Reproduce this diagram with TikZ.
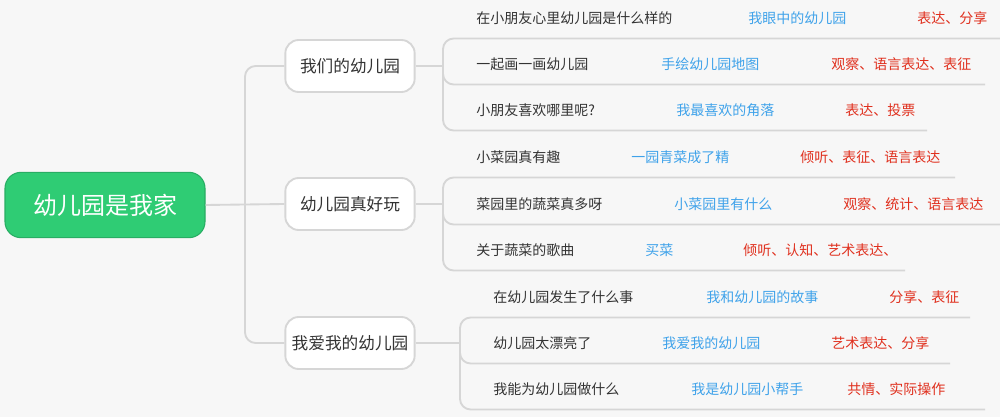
\documentclass[tikz,border=0pt]{standalone}
\usepackage{fontspec}
\setmainfont{Noto Sans CJK SC}
\usetikzlibrary{positioning}
\definecolor{rootgreen}{HTML}{2FCC74}
\definecolor{linegray}{HTML}{D6D6D6}
\definecolor{topicblue}{HTML}{3FA2EA}
\definecolor{skillred}{HTML}{E0301E}
\definecolor{txtgray}{HTML}{333333}
\tikzset{
	conn/.style={draw=linegray, line width=1.4pt, rounded corners=8pt},
	topic/.style={draw=linegray, line width=1.4pt, fill=white, rounded corners=10pt,
		minimum width=97pt, minimum height=39pt, font=\fontsize{12.5}{14}\selectfont, text=txtgray},
	leaf/.style={anchor=west, inner sep=0pt, font=\fontsize{10.5}{12}\selectfont},
}
% \leafrow{name}{y}{black x}{text}{blue x}{text}{red x}{text}{end x}
\newcommand{\leafrow}[9]{
	\node[leaf, text=txtgray] (#1a) at (#3, #2) {#4};
	\node[leaf, text=topicblue] (#1b) at (#5, #2) {#6};
	\node[leaf, text=skillred] (#1c) at (#7, #2) {#8};
	\coordinate (#1e) at (#9, #2+20.5);
}
\begin{document}
\begin{tikzpicture}[x=0.75pt, y=-0.75pt]
\fill[white!97!black] (0,0) rectangle (1000,417);
\useasboundingbox (0,0) rectangle (1000,417);

\node[fill=rootgreen, draw=rootgreen!85!black, line width=0.8pt, rounded corners=12pt, text=white,
	minimum width=150pt, minimum height=49pt, font=\fontsize{18}{20}\selectfont] (root) at (105, 205) {幼儿园是我家};

\coordinate (trunk) at (245, 205);
\node[topic] (t1) at (350, 66) {我们的幼儿园};
\node[topic] (t2) at (350, 204) {幼儿园真好玩};
\node[topic] (t3) at (350, 343) {我爱我的幼儿园};
\draw[conn] (root.east) -- (t2.west);
\draw[conn] (t1.west) -- (245, 66) -- (245, 343) -- (t3.west);

% group 1
\leafrow{a1}{18}{476}{在小朋友心里幼儿园是什么样的}{748}{我眼中的幼儿园}{917}{表达、分享}{1000}
\leafrow{a2}{64}{476}{一起画一画幼儿园}{661}{手绘幼儿园地图}{831}{观察、语言表达、表征}{985}
\leafrow{a3}{110}{476}{小朋友喜欢哪里呢?}{676}{我最喜欢的角落}{845}{表达、投票}{927}
% group 2
\leafrow{b1}{157}{476}{小菜园真有趣}{631}{一园青菜成了精}{800}{倾听、表征、语言表达}{955}
\leafrow{b2}{204}{476}{菜园里的蔬菜真多呀}{674}{小菜园里有什么}{843}{观察、统计、语言表达}{1000}
\leafrow{b3}{250}{476}{关于蔬菜的歌曲}{645}{买菜}{743}{倾听、认知、艺术表达、}{905}
% group 3
\leafrow{c1}{297}{493}{在幼儿园发生了什么事}{706}{我和幼儿园的故事}{889}{分享、表征}{970}
\leafrow{c2}{343}{493}{幼儿园太漂亮了}{662}{我爱我的幼儿园}{831}{艺术表达、分享}{950}
\leafrow{c3}{389}{493}{我能为幼儿园做什么}{691}{我是幼儿园小帮手}{847}{共情、实际操作}{985}

\foreach \g/\bx in {a/443, b/443, c/460} {
	\draw[conn] (\g1e) -- (\bx, 0 |- \g1e) -- (\bx, 0 |- \g3e) -- (\g3e);
	\draw[conn] (\bx, 0 |- \g1e) ++(0,30) -- (\bx, 0 |- \g2e) -- (\g2e);
}
\draw[conn] (t1.east) -- (443, 66);
\draw[conn] (t2.east) -- (443, 204);
\draw[conn] (t3.east) -- (460, 343);
\end{tikzpicture}
\end{document}
